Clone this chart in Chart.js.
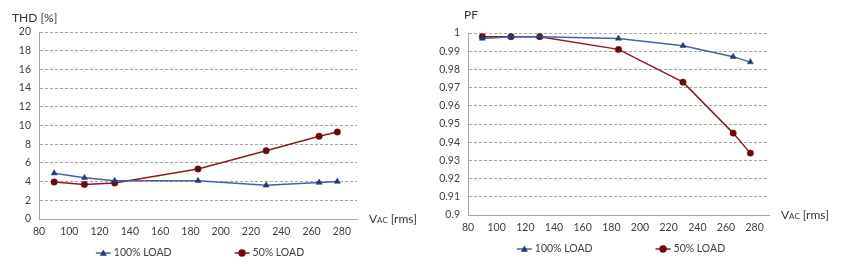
<!DOCTYPE html>
<html>
<head>
<meta charset="utf-8">
<script src="https://cdn.jsdelivr.net/npm/chart.js@4/dist/chart.umd.min.js"></script>
<style>
    html, body { margin: 0; padding: 0; background: #fff; }
    #wrap { position: relative; width: 846px; height: 268px; }
    .box  { position: absolute; top: 0; width: 423px; height: 268px; }
    #box-thd { left: 0; }
    #box-pf  { left: 423px; }
</style>
</head>
<body>
<div id="wrap">
    <div class="box" id="box-thd"><canvas id="chart-thd" width="423" height="268"></canvas></div>
    <div class="box" id="box-pf"><canvas id="chart-pf" width="423" height="268"></canvas></div>
</div>
<script>
// --- Data ---

const vac         = [90, 110, 130, 185, 230, 265, 277];
const seriesNames = ["100% LOAD", "50% LOAD"];

const thdFull = [4.9, 4.4, 4.1, 4.1, 3.6, 3.9, 4.0];
const thdHalf = [3.95, 3.7, 3.85, 5.35, 7.3, 8.85, 9.3];

const pfFull = [0.997, 0.998, 0.998, 0.997, 0.993, 0.987, 0.984];
const pfHalf = [0.998, 0.998, 0.998, 0.991, 0.973, 0.945, 0.934];

const xTicks = [80, 100, 120, 140, 160, 180, 200, 220, 240, 260, 280];

// --- Style ---

const FONT      = "Lato, 'Liberation Sans', sans-serif";
const TEXT      = "#404040";
const GRID      = "#a6a6a6";
const BLUE_LINE = "#4364a3";
const BLUE_MARK = "#1f3b7a";
const RED_LINE  = "#8c1c1c";
const RED_MARK  = "#6a0a0a";

function pts(ys) {
    return vac.map((x, i) => ({ x: x, y: ys[i] }));
}

function marker(ctx, ds, cx, cy) {
    const r = ds.pointRadius;
    ctx.fillStyle = ds.pointBackgroundColor;
    ctx.beginPath();
    if (ds.pointStyle === "circle") {
        ctx.arc(cx, cy, r + 0.5, 0, Math.PI * 2);
    } else {
        ctx.moveTo(cx, cy - r);
        ctx.lineTo(cx + r, cy + r * 0.8);
        ctx.lineTo(cx - r, cy + r * 0.8);
        ctx.closePath();
    }
    ctx.fill();
}

// Y title, x-axis title (V with small "AC") and the line+marker legend
const decorPlugin = {
    id: "decor",
    afterDraw(chart, args, opts) {
        const ctx = chart.ctx;
        const area = chart.chartArea;
        ctx.save();
        ctx.fillStyle = "#333";
        ctx.textBaseline = "middle";
        ctx.textAlign = "left";

        // y title
        ctx.font = `12px ${FONT}`;
        ctx.fillText(opts.yTitle, opts.yTitleX, opts.yTitleY);

        // x title
        let x = area.right + 12;
        const y = area.bottom;
        ctx.fillText("V", x, y);
        x += ctx.measureText("V").width;
        ctx.font = `8px ${FONT}`;
        ctx.fillText("AC", x, y + 1);
        x += ctx.measureText("AC").width + 1;
        ctx.font = `12px ${FONT}`;
        ctx.fillText("[rms]", x + 2, y);

        // legend
        ctx.font = `10.5px ${FONT}`;
        const lineLen = 15, gapText = 3, gapItem = 63;
        const items = chart.data.datasets.map(ds => ({
            ds: ds, w: lineLen + gapText + ctx.measureText(ds.label).width
        }));
        const total = items.reduce((s, it) => s + it.w, 0) + gapItem * (items.length - 1);
        let lx = opts.legendCenter - total / 2;
        const ly = opts.legendY;
        items.forEach(it => {
            ctx.strokeStyle = it.ds.borderColor;
            ctx.lineWidth = 1.5;
            ctx.beginPath();
            ctx.moveTo(lx, ly);
            ctx.lineTo(lx + lineLen, ly);
            ctx.stroke();
            marker(ctx, it.ds, lx + lineLen / 2, ly);
            ctx.fillStyle = TEXT;
            ctx.fillText(it.ds.label, lx + lineLen + gapText, ly);
            lx += it.w + gapItem;
        });
        ctx.restore();
    }
};

function makeChart(id, cfg) {
    const datasets = [
        {
            label: seriesNames[0], data: pts(cfg.full),
            borderColor: BLUE_LINE, borderWidth: 1.5,
            pointStyle: "triangle", pointRadius: 3.5, pointBorderWidth: 0.5,
            pointBackgroundColor: BLUE_MARK, pointBorderColor: BLUE_MARK,
            tension: 0
        },
        {
            label: seriesNames[1], data: pts(cfg.half),
            borderColor: RED_LINE, borderWidth: 1.5,
            pointStyle: "circle", pointRadius: 3.2, pointBorderWidth: 0.5,
            pointBackgroundColor: RED_MARK, pointBorderColor: RED_MARK,
            tension: 0
        }
    ];

    return new Chart(document.getElementById(id), {
        type: "scatter",
        data: { datasets: datasets },
        options: {
            responsive: false,
            animation: false,
            showLine: true,
            layout: { padding: { left: 0, top: cfg.top, right: 423 - cfg.right, bottom: 0 } },
            plugins: {
                legend: { display: false },
                tooltip: { enabled: false },
                decor: cfg.decor
            },
            scales: {
                x: {
                    type: "linear", min: 80, max: 290,
                    afterBuildTicks: s => { s.ticks = xTicks.map(v => ({ value: v })); },
                    afterFit: s => { s.height = 268 - cfg.bottom; },
                    grid: { display: false, drawTicks: false },
                    border: { display: true, color: GRID, width: 1 },
                    ticks: { color: TEXT, font: { family: FONT, size: 10.5 }, padding: 6, maxRotation: 0 }
                },
                y: {
                    type: "linear", min: cfg.ymin, max: cfg.ymax,
                    ticks: {
                        stepSize: cfg.step, color: TEXT, padding: 8,
                        font: { family: FONT, size: 10.5 },
                        callback: v => String(Number(v.toFixed(2)))
                    },
                    afterFit: s => { s.width = cfg.left; },
                    grid: { color: GRID, drawTicks: false, lineWidth: 1 },
                    border: { display: true, color: GRID, width: 1, dash: [3, 2] }
                }
            }
        },
        plugins: [decorPlugin]
    });
}

makeChart("chart-thd", {
    full: thdFull, half: thdHalf,
    ymin: 0, ymax: 20, step: 2,
    left: 39, right: 357, top: 32, bottom: 219,
    decor: { yTitle: "THD [%]", yTitleX: 12, yTitleY: 18, legendCenter: 200, legendY: 253 }
});

makeChart("chart-pf", {
    full: pfFull, half: pfHalf,
    ymin: 0.9, ymax: 1, step: 0.01,
    left: 45, right: 346, top: 33, bottom: 215,
    decor: { yTitle: "PF", yTitleX: 41, yTitleY: 15, legendCenter: 198, legendY: 249 }
});
</script>
</body>
</html>
